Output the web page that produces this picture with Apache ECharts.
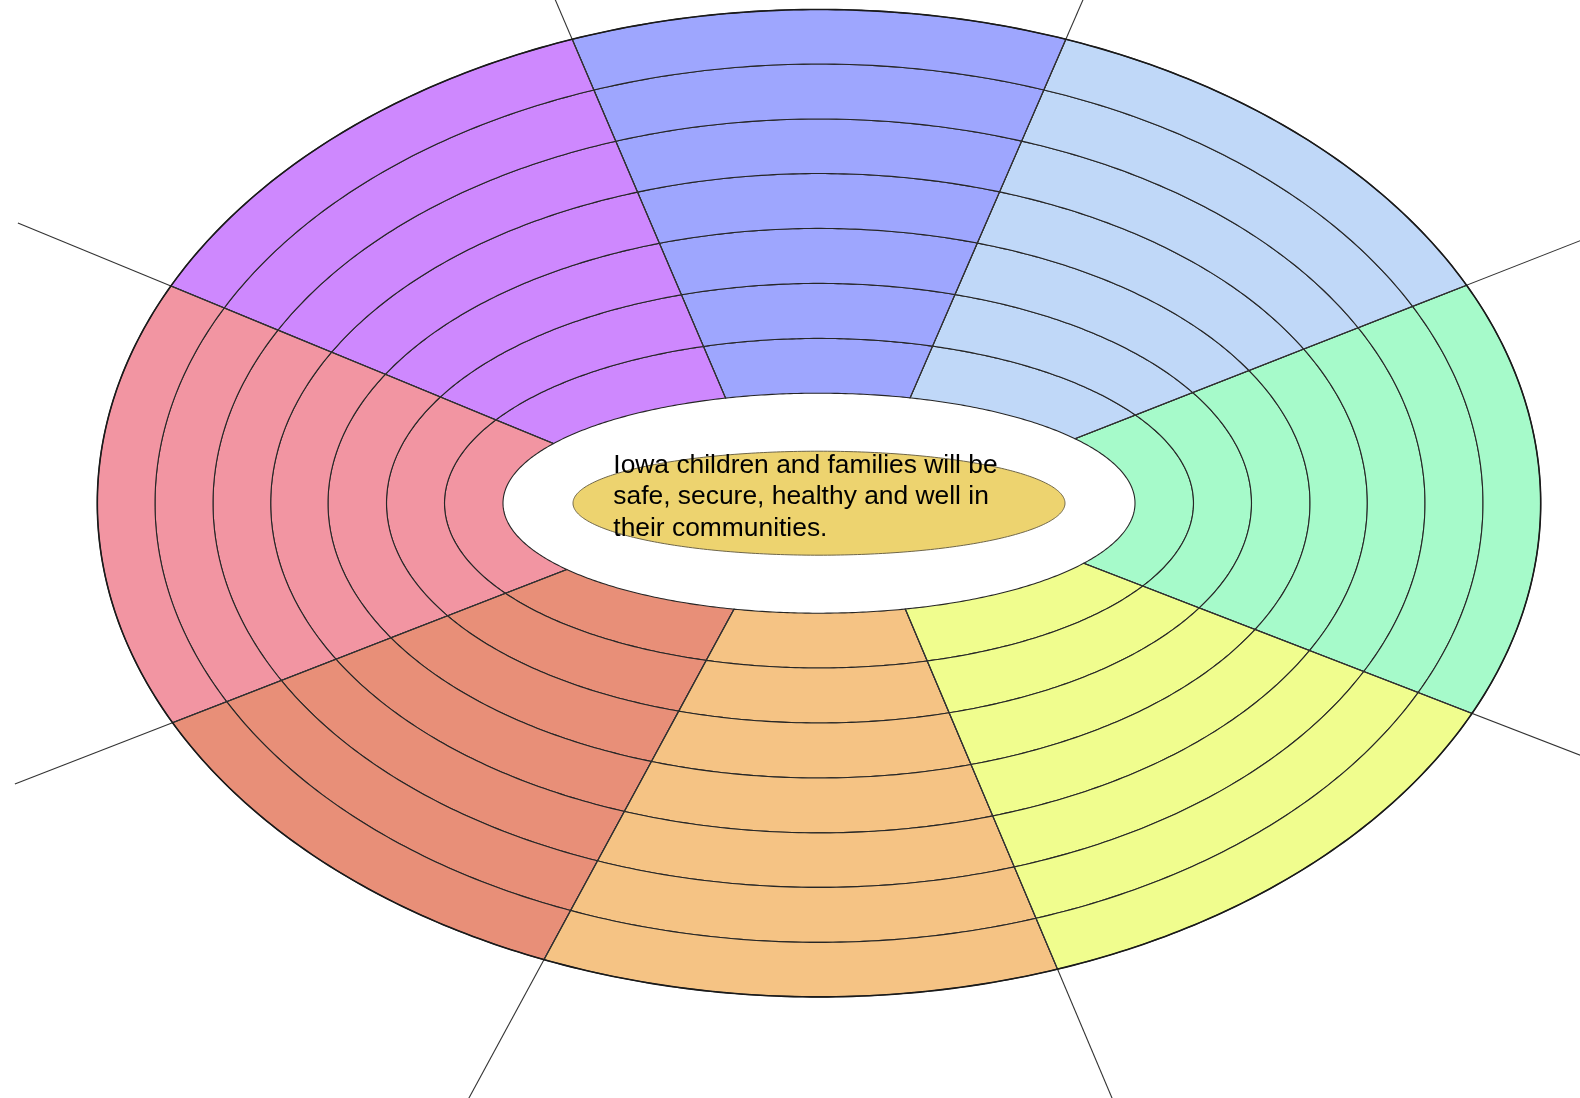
<!DOCTYPE html>
<html>
<head>
<meta charset="utf-8">
<script src="https://cdn.jsdelivr.net/npm/echarts@6/dist/echarts.min.js"></script>
<style>
html, body { margin: 0; padding: 0; background: #fff; }
#main { width: 1580px; height: 1098px; }
</style>
</head>
<body>
<div id="main"></div>
<script>
// ring ellipses (half widths / half heights), white hole first, outer rim last
const ringRx = [316, 374.5, 432.5, 491, 548.3, 606, 664, 721.7];
const ringRy = [110, 164.8, 219.8, 274.8, 329.7, 384.2, 439.2, 493.7];
// where each divider leaves the hole and where it crosses the rim (ellipse angle, deg)
const dividerInnerDeg = [-33.1, 35.9, 73.25, 107.2, 147.2, 217.05, 254.4, 285.85];
const dividerOuterDeg = [-25.2, 26.2, 70.0, 110.0, 153.9, 206.4, 247.6, 289.3];
// gold centre oval
const centerRx = 246;
const centerRy = 52;
const centerText = 'Iowa children and families will be\nsafe, secure, healthy and well in\ntheir communities.';
const textAnchor = [-205.7, 6.2];

const palette = ['#A6FACA', '#C0D8F8', '#9EA6FE', '#CE88FE', '#F295A2', '#E88F78', '#F5C384', '#F0FD8E'];
const lineReach = 1.4;

const nSec = dividerInnerDeg.length;
const nRing = ringRx.length;

function rad(d) { return d * Math.PI / 180; }
function ptOn(k, deg) {
    return [ringRx[k] * Math.cos(rad(deg)), ringRy[k] * Math.sin(rad(deg))];
}
function dividerEnds(i) {
    return [ptOn(0, dividerInnerDeg[i]), ptOn(nRing - 1, dividerOuterDeg[i])];
}
// angle on ring k where divider i crosses it
function dividerHit(i, k) {
    const [p0, p1] = dividerEnds(i);
    const dx = p1[0] - p0[0], dy = p1[1] - p0[1];
    const rx2 = ringRx[k] * ringRx[k], ry2 = ringRy[k] * ringRy[k];
    const A = dx * dx / rx2 + dy * dy / ry2;
    const B = 2 * (p0[0] * dx / rx2 + p0[1] * dy / ry2);
    const C = p0[0] * p0[0] / rx2 + p0[1] * p0[1] / ry2 - 1;
    const t = (-B + Math.sqrt(Math.max(0, B * B - 4 * A * C))) / (2 * A);
    const x = p0[0] + t * dx, y = p0[1] + t * dy;
    return Math.atan2(y / ringRy[k], x / ringRx[k]) * 180 / Math.PI;
}
function arc(k, a, b) {
    while (b <= a) b += 360;
    const pts = [];
    const n = Math.max(16, Math.ceil((b - a) * 1.5));
    for (let j = 0; j <= n; j++) pts.push(ptOn(k, a + (b - a) * j / n));
    return pts;
}

let cells = [];
for (let s = 0; s < nSec; s++) {
    for (let k = 0; k < nRing - 1; k++) cells.push([s, k]);
}
let dividers = [];
for (let i = 0; i < nSec; i++) dividers.push([i, 0]);

let chart = echarts.init(document.getElementById('main'));

let option = {
    animation: false,
    grid: { left: 0, right: 0, top: 0, bottom: 0 },
    xAxis: { type: 'value', min: -819, max: 761, show: false },
    yAxis: { type: 'value', min: -594.8, max: 503.2, show: false },
    series: [
        {
            type: 'custom',
            data: cells,
            renderItem: function (params, api) {
                const s = api.value(0), k = api.value(1);
                const n = (s + 1) % nSec;
                const outer = arc(k + 1, dividerHit(s, k + 1), dividerHit(n, k + 1));
                const inner = arc(k, dividerHit(s, k), dividerHit(n, k)).reverse();
                return {
                    type: 'polygon',
                    shape: { points: outer.concat(inner).map(p => api.coord(p)) },
                    style: { fill: palette[s], stroke: '#262626', lineWidth: 1.1 }
                };
            }
        },
        {
            type: 'custom',
            data: dividers,
            renderItem: function (params, api) {
                const [p0, p1] = dividerEnds(api.value(0));
                const a = api.coord(p0);
                const b = api.coord([p0[0] + lineReach * (p1[0] - p0[0]), p0[1] + lineReach * (p1[1] - p0[1])]);
                return {
                    type: 'line',
                    shape: { x1: a[0], y1: a[1], x2: b[0], y2: b[1] },
                    style: { stroke: '#333', lineWidth: 1.1 }
                };
            }
        },
        {
            type: 'custom',
            data: [[0, 0]],
            renderItem: function (params, api) {
                const rim = arc(nRing - 1, 0, 360).map(p => api.coord(p));
                let oval = [];
                for (let j = 0; j < 360; j++) {
                    const t = rad(j);
                    oval.push(api.coord([centerRx * Math.cos(t), centerRy * Math.sin(t)]));
                }
                const tp = api.coord(textAnchor);
                return {
                    type: 'group',
                    children: [
                        {
                            type: 'polygon',
                            shape: { points: rim },
                            style: { fill: 'none', stroke: '#1a1a1a', lineWidth: 1.6 }
                        },
                        {
                            type: 'polygon',
                            shape: { points: oval },
                            style: { fill: '#EDD36F', stroke: '#6e6548', lineWidth: 1 }
                        },
                        {
                            type: 'text',
                            x: tp[0],
                            y: tp[1],
                            style: {
                                text: centerText,
                                fontFamily: '"Liberation Sans", Arial, sans-serif',
                                fontSize: 26.4,
                                lineHeight: 31.7,
                                fill: '#000',
                                align: 'left',
                                verticalAlign: 'middle'
                            }
                        }
                    ]
                };
            }
        }
    ]
};

chart.setOption(option);
</script>
</body>
</html>
